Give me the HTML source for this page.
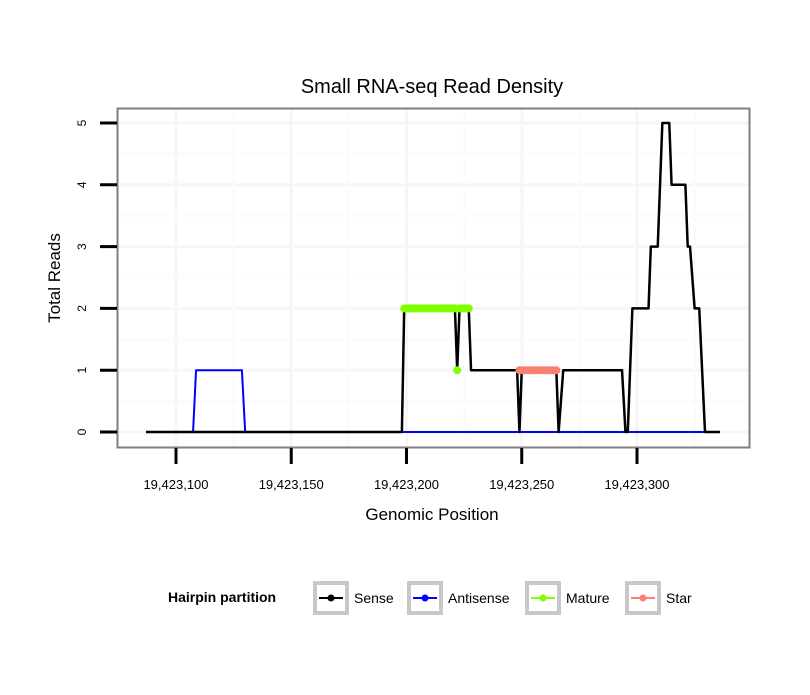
<!DOCTYPE html>
<html><head><meta charset="utf-8"><style>
body{margin:0;background:#fff;font-family:"Liberation Sans",sans-serif;}
</style></head><body>
<svg id="chart" width="810" height="690" font-family="Liberation Sans, sans-serif">
<rect width="810" height="690" fill="#fff"/>
<text x="432" y="93" font-size="20" text-anchor="middle">Small RNA-seq Read Density</text>
<g id="grid"></g>
<g id="series"></g>
<rect x="117.5" y="108.5" width="632" height="339" fill="none" stroke="#7f7f7f" stroke-width="2"/>
<g id="axes"></g>
<text x="432" y="520" font-size="17" text-anchor="middle">Genomic Position</text>
<text transform="translate(60,278) rotate(-90)" font-size="17" text-anchor="middle">Total Reads</text>
<g>
<text x="168" y="602" font-size="14" font-weight="bold">Hairpin partition</text>
<g id="legend"></g>
</g>
</svg>
<script>
const senseX=[-13,98,99,121,122,123,127,128,148,149,150,165,166,168,193.5,195,196,198,205,206,209,210,211,214,215,221,222,223,225,227,229.5,236];
const senseY=[0,0,2,2,1,2,2,1,1,0,1,1,0,1,1,0,0,2,2,3,3,4,5,5,4,4,3,3,2,2,0,0];
const antiX=[-13,7.4,8.7,28.6,30,229.5];
const antiY=[0,0,1,1,0,0];
const matureX=[99,100,101,102,103,104,105,106,107,108,109,110,111,112,113,114,115,116,117,118,119,120,121,123,124,125,126,127];
const matureY=[2,2,2,2,2,2,2,2,2,2,2,2,2,2,2,2,2,2,2,2,2,2,2,2,2,2,2,2];
const matureDotX=[122];const matureDotY=[1];
const starX=[149,150,151,152,153,154,155,156,157,158,159,160,161,162,163,164,165];
const starY=[1,1,1,1,1,1,1,1,1,1,1,1,1,1,1,1,1];
const xTicks=[0,50,100,150,200];
const xTickLabels=["19,423,100","19,423,150","19,423,200","19,423,250","19,423,300"];
const yTicks=[0,1,2,3,4,5];
const sx=v=>176+v*2.305;
const sy=v=>432-v*61.8;
const NS="http://www.w3.org/2000/svg";
function mk(tag,attrs,parent){const e=document.createElementNS(NS,tag);for(const k in attrs)e.setAttribute(k,attrs[k]);parent.appendChild(e);return e;}
const grid=document.getElementById('grid'),axes=document.getElementById('axes'),ser=document.getElementById('series');
mk('rect',{x:117,y:108,width:632,height:339,fill:'#fff'},grid);
for(let i=-1;i<=5;i++){const v=i+0.5;if(sy(v)>108&&sy(v)<447){const l=mk('line',{x1:117,x2:749,y1:sy(v),y2:sy(v),stroke:'#fbfbfb','stroke-width':2},grid);}}
yTicks.forEach(v=>{const l=mk('line',{x1:117,x2:749,y1:sy(v),y2:sy(v),stroke:'#f6f6f6','stroke-width':3},grid);
const t=mk('line',{x1:100,x2:117,y1:sy(v),y2:sy(v),stroke:'#000','stroke-width':3},axes);
const tx=mk('text',{transform:`translate(86,${sy(v)}) rotate(-90)`,'font-size':12,'text-anchor':'middle'},axes);tx.textContent=v;});
xTicks.forEach((v,i)=>{[v-25,v+25].forEach(m=>{if(sx(m)>117&&sx(m)<749){const g=mk('line',{x1:sx(m),x2:sx(m),y1:108,y2:447,stroke:'#fbfbfb','stroke-width':2},grid);}});
const l=mk('line',{x1:sx(v),x2:sx(v),y1:108,y2:447,stroke:'#f6f6f6','stroke-width':3},grid);
const t=mk('line',{x1:sx(v),x2:sx(v),y1:448,y2:464,stroke:'#000','stroke-width':3},axes);
const tx=mk('text',{x:sx(v),y:489,'font-size':13,'text-anchor':'middle'},axes);tx.textContent=xTickLabels[i];});
function path(xs,ys,color,w,name){const d=xs.map((x,i)=>(i?'L':'M')+sx(x)+','+sy(ys[i])).join('');const p=mk('path',{d:d,fill:'none',stroke:color,'stroke-width':w,'stroke-linejoin':'round'},ser);}
function dots(xs,ys,color,r,name){xs.forEach((x,i)=>{const c=mk('circle',{cx:sx(x),cy:sy(ys[i]),r:r,fill:color},ser);});}
path(antiX,antiY,'#0000ff',2,'antisense-line');
path(senseX,senseY,'#000',2.5,'sense-line');
path(matureX,matureY,'#7fff00',6,'mature-line');
dots(matureX,matureY,'#7fff00',4,'mature-point');
dots(matureDotX,matureDotY,'#7fff00',4,'mature-point');
path(starX,starY,'#fa8072',6,'star-line');
dots(starX,starY,'#fa8072',4,'star-point');
const leg=document.getElementById('legend');
[["Sense","#000",313,354],["Antisense","#0000ff",407,448],["Mature","#7fff00",525,566],["Star","#fa8072",625,666]].forEach(([n,c,x,tx])=>{
const b=mk('rect',{x:x+2,y:583,width:32,height:30,fill:'#fff',stroke:'#c8c8c8','stroke-width':4},leg);
mk('line',{x1:x+6,x2:x+30,y1:598,y2:598,stroke:c,'stroke-width':2},leg);
mk('circle',{cx:x+18,cy:598,r:3.5,fill:c},leg);
const t=mk('text',{x:tx,y:603,'font-size':14},leg);t.textContent=n;});
</script>
</body></html>
